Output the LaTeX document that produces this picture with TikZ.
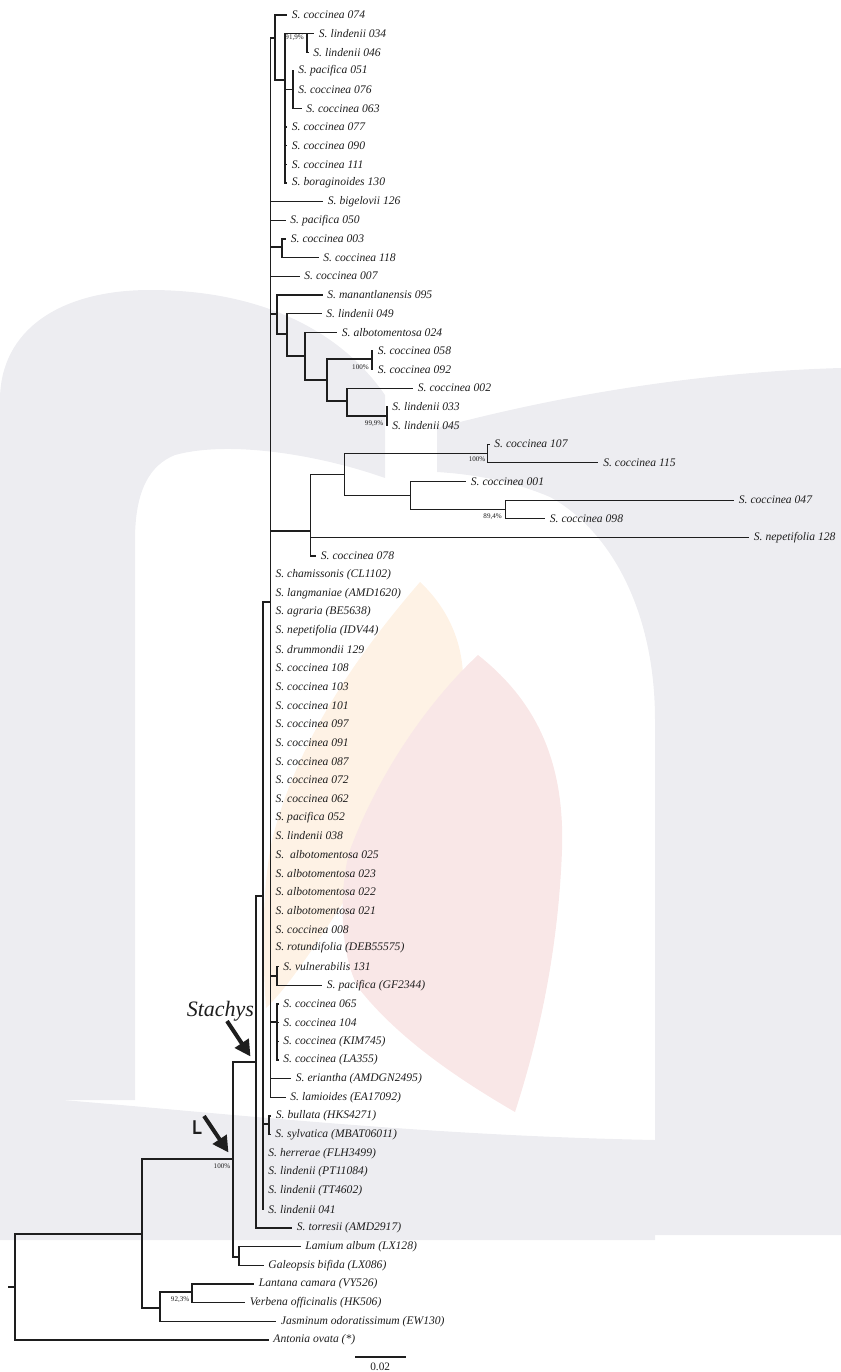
\documentclass[tikz,border=0pt]{standalone}
\usepackage{fontspec}
\setmainfont{Liberation Serif}
\newfontfamily\lsansfont{Liberation Sans}
\usetikzlibrary{arrows.meta}
\definecolor{wmgray}{RGB}{237,237,241}
\definecolor{wmorange}{RGB}{254,242,229}
\definecolor{wmpink}{RGB}{249,231,231}
\definecolor{ink}{RGB}{30,30,30}
\begin{document}
\begin{tikzpicture}[x=0.75pt,y=-0.75pt,
 br/.style={line width=0.95pt,draw=ink},
 leaf/.style={anchor=west,inner xsep=3.5pt,inner ysep=0pt,font=\fontsize{8.7}{10}\selectfont\itshape,text=ink},
 bs/.style={anchor=east,inner sep=0pt,font=\fontsize{5.3}{6}\selectfont,text=ink},
 bigarrow/.style={line width=3pt,draw=ink,-{Triangle[length=12pt,width=12pt]}}]
\useasboundingbox (0,0) rectangle (841,1372);
% watermark
\fill[wmgray] (0,1100) -- (0,400) .. controls (0,330) and (60,290) .. (150,290) .. controls (260,290) and (340,330) .. (385,395) -- (385,478) .. controls (320,455) and (230,440) .. (175,455) .. controls (150,465) and (135,490) .. (135,540) -- (135,1100) -- cycle;
\fill[wmgray] (437,472) -- (437,428) .. controls (560,395) and (700,372) .. (841,368) -- (841,1235) -- (655,1235) -- (655,720) .. controls (655,610) and (610,530) .. (550,497) .. controls (510,480) and (470,474) .. (437,472) -- cycle;
\fill[wmgray] (0,1095) .. controls (200,1110) and (400,1135) .. (655,1140) -- (655,1240) -- (0,1240) -- cycle;
\fill[wmorange] (420,582) .. controls (450,610) and (468,650) .. (462,700) .. controls (455,770) and (390,830) .. (345,900) .. controls (315,945) and (290,985) .. (266,1008) .. controls (262,950) and (262,890) .. (272,840) .. controls (300,730) and (370,640) .. (420,582) -- cycle;
\fill[wmpink] (478,655) .. controls (535,700) and (565,760) .. (562,850) .. controls (558,960) and (535,1050) .. (515,1112) .. controls (460,1080) and (400,1040) .. (360,990) .. controls (340,960) and (338,890) .. (350,850) .. controls (380,770) and (430,700) .. (478,655) -- cycle;
% internal nodes
\coordinate (R0) at (8,1287);
\coordinate (R) at (15,1287);
\coordinate (A) at (142,1234);
\coordinate (L) at (233,1159);
\coordinate (S) at (256,1062);
\coordinate (LG) at (239,1257);
\coordinate (V) at (160,1308);
\coordinate (VL) at (192,1292);
\coordinate (C) at (263,896);
\coordinate (BS) at (269,1124);
\coordinate (Q) at (270.7,602);
\coordinate (T) at (275,38);
\coordinate (P) at (285,80);
\coordinate (N034) at (307,33.7);
\coordinate (N051) at (293,89.6);
\coordinate (N003) at (282,247);
\coordinate (M) at (277,314);
\coordinate (M2) at (287,334);
\coordinate (M3) at (305,356);
\coordinate (M4) at (327,380);
\coordinate (N058) at (372,359);
\coordinate (M5) at (347,401);
\coordinate (N033) at (387,416);
\coordinate (D) at (310.5,531);
\coordinate (D1) at (344.5,474.5);
\coordinate (D2) at (487.5,453.5);
\coordinate (D3) at (410.5,495.5);
\coordinate (D4) at (505.5,509.5);
\coordinate (VP) at (277,976);
\coordinate (CP) at (277,1022);
% leaves
\node[leaf] (t1) at (287,15.0) {S. coccinea 074};
\node[leaf] (t2) at (314,33.7) {S. lindenii 034};
\node[leaf] (t3) at (308.5,52.3) {S. lindenii 046};
\node[leaf] (t4) at (293.5,71.0) {S. pacifica 051};
\node[leaf] (t5) at (293.5,89.6) {S. coccinea 076};
\node[leaf] (t6) at (301.5,108.3) {S. coccinea 063};
\node[leaf] (t7) at (287,127.0) {S. coccinea 077};
\node[leaf] (t8) at (287,145.6) {S. coccinea 090};
\node[leaf] (t9) at (287,164.3) {S. coccinea 111};
\node[leaf] (t10) at (287,182.9) {S. boraginoides 130};
\node[leaf] (t11) at (323,201.6) {S. bigelovii 126};
\node[leaf] (t12) at (285.5,220.3) {S. pacifica 050};
\node[leaf] (t13) at (286,238.9) {S. coccinea 003};
\node[leaf] (t14) at (318.5,257.6) {S. coccinea 118};
\node[leaf] (t15) at (299.5,276.2) {S. coccinea 007};
\node[leaf] (t16) at (322.5,294.9) {S. manantlanensis 095};
\node[leaf] (t17) at (321.5,313.6) {S. lindenii 049};
\node[leaf] (t18) at (337,332.2) {S. albotomentosa 024};
\node[leaf] (t19) at (373,350.9) {S. coccinea 058};
\node[leaf] (t20) at (373,369.5) {S. coccinea 092};
\node[leaf] (t21) at (413,388.2) {S. coccinea 002};
\node[leaf] (t22) at (387.5,406.9) {S. lindenii 033};
\node[leaf] (t23) at (387.5,425.5) {S. lindenii 045};
\node[leaf] (t24) at (489.5,444.2) {S. coccinea 107};
\node[leaf] (t25) at (598.4,462.8) {S. coccinea 115};
\node[leaf] (t26) at (466,481.5) {S. coccinea 001};
\node[leaf] (t27) at (734,500.2) {S. coccinea 047};
\node[leaf] (t28) at (545,518.8) {S. coccinea 098};
\node[leaf] (t29) at (749,537.5) {S. nepetifolia 128};
\node[leaf] (t30) at (316,556.1) {S. coccinea 078};
\node[leaf] (t31) at (270.7,574.8) {S. chamissonis (CL1102)};
\node[leaf] (t32) at (270.7,593.5) {S. langmaniae (AMD1620)};
\node[leaf] (t33) at (270.7,612.1) {S. agraria (BE5638)};
\node[leaf] (t34) at (270.7,630.8) {S. nepetifolia (IDV44)};
\node[leaf] (t35) at (270.7,649.4) {S. drummondii 129};
\node[leaf] (t36) at (270.7,668.1) {S. coccinea 108};
\node[leaf] (t37) at (270.7,686.8) {S. coccinea 103};
\node[leaf] (t38) at (270.7,705.4) {S. coccinea 101};
\node[leaf] (t39) at (270.7,724.1) {S. coccinea 097};
\node[leaf] (t40) at (270.7,742.7) {S. coccinea 091};
\node[leaf] (t41) at (270.7,761.4) {S. coccinea 087};
\node[leaf] (t42) at (270.7,780.1) {S. coccinea 072};
\node[leaf] (t43) at (270.7,798.7) {S. coccinea 062};
\node[leaf] (t44) at (270.7,817.4) {S. pacifica 052};
\node[leaf] (t45) at (270.7,836.0) {S. lindenii 038};
\node[leaf] (t46) at (270.7,854.7) {S.\ \ albotomentosa 025};
\node[leaf] (t47) at (270.7,873.4) {S. albotomentosa 023};
\node[leaf] (t48) at (270.7,892.0) {S. albotomentosa 022};
\node[leaf] (t49) at (270.7,910.7) {S. albotomentosa 021};
\node[leaf] (t50) at (270.7,929.3) {S. coccinea 008};
\node[leaf] (t51) at (270.7,948.0) {S. rotundifolia (DEB55575)};
\node[leaf] (t52) at (278.5,966.7) {S. vulnerabilis 131};
\node[leaf] (t53) at (322,985.3) {S. pacifica (GF2344)};
\node[leaf] (t54) at (278.5,1004.0) {S. coccinea 065};
\node[leaf] (t55) at (278.5,1022.6) {S. coccinea 104};
\node[leaf] (t56) at (278.5,1041.3) {S. coccinea (KIM745)};
\node[leaf] (t57) at (278.5,1060.0) {S. coccinea (LA355)};
\node[leaf] (t58) at (291,1078.6) {S. eriantha (AMDGN2495)};
\node[leaf] (t59) at (285.5,1097.3) {S. lamioides (EA17092)};
\node[leaf] (t60) at (271,1115.9) {S. bullata (HKS4271)};
\node[leaf] (t61) at (270.5,1134.6) {S. sylvatica (MBAT06011)};
\node[leaf] (t62) at (263.5,1153.3) {S. herrerae (FLH3499)};
\node[leaf] (t63) at (263.5,1171.9) {S. lindenii (PT11084)};
\node[leaf] (t64) at (263.5,1190.6) {S. lindenii (TT4602)};
\node[leaf] (t65) at (263.5,1209.2) {S. lindenii 041};
\node[leaf] (t66) at (292,1227.9) {S. torresii (AMD2917)};
\node[leaf] (t67) at (300.5,1246.6) {Lamium album (LX128)};
\node[leaf] (t68) at (263.5,1265.2) {Galeopsis bifida (LX086)};
\node[leaf] (t69) at (254,1283.9) {Lantana camara (VY526)};
\node[leaf] (t70) at (245,1302.5) {Verbena officinalis (HK506)};
\node[leaf] (t71) at (276,1321.2) {Jasminum odoratissimum (EW130)};
\node[leaf] (t72) at (268.5,1339.9) {Antonia ovata (*)};
% branches
\draw[br] (R0) -- (R);
\foreach \c in {A,t72.west} \draw[br] (R) |- (\c);
\foreach \c in {L,V} \draw[br] (A) |- (\c);
\foreach \c in {S,LG} \draw[br] (L) |- (\c);
\foreach \c in {t67.west,t68.west} \draw[br] (LG) |- (\c);
\foreach \c in {VL,t71.west} \draw[br] (V) |- (\c);
\foreach \c in {t69.west,t70.west} \draw[br] (VL) |- (\c);
\foreach \c in {C,t66.west} \draw[br] (S) |- (\c);
\foreach \c in {Q,BS,t62.west,t63.west,t64.west,t65.west} \draw[br] (C) |- (\c);
\foreach \c in {t60.west,t61.west} \draw[br] (BS) |- (\c);
\foreach \c in {T,t11.west,t12.west,N003,t15.west,M,D,t31.west,t32.west,t33.west,t34.west,t35.west,t36.west,t37.west,t38.west,t39.west,t40.west,t41.west,t42.west,t43.west,t44.west,t45.west,t46.west,t47.west,t48.west,t49.west,t50.west,t51.west,VP,CP,t58.west,t59.west} \draw[br] (Q) |- (\c);
\foreach \c in {t1.west,P} \draw[br] (T) |- (\c);
\foreach \c in {N034,N051,t7.west,t8.west,t9.west,t10.west} \draw[br] (P) |- (\c);
\foreach \c in {t2.west,t3.west} \draw[br] (N034) |- (\c);
\foreach \c in {t4.west,t5.west,t6.west} \draw[br] (N051) |- (\c);
\foreach \c in {t13.west,t14.west} \draw[br] (N003) |- (\c);
\foreach \c in {t16.west,M2} \draw[br] (M) |- (\c);
\foreach \c in {t17.west,M3} \draw[br] (M2) |- (\c);
\foreach \c in {t18.west,M4} \draw[br] (M3) |- (\c);
\foreach \c in {N058,M5} \draw[br] (M4) |- (\c);
\foreach \c in {t19.west,t20.west} \draw[br] (N058) |- (\c);
\foreach \c in {t21.west,N033} \draw[br] (M5) |- (\c);
\foreach \c in {t22.west,t23.west} \draw[br] (N033) |- (\c);
\foreach \c in {D1,t29.west,t30.west} \draw[br] (D) |- (\c);
\foreach \c in {D2,D3} \draw[br] (D1) |- (\c);
\foreach \c in {t24.west,t25.west} \draw[br] (D2) |- (\c);
\foreach \c in {t26.west,D4} \draw[br] (D3) |- (\c);
\foreach \c in {t27.west,t28.west} \draw[br] (D4) |- (\c);
\foreach \c in {t52.west,t53.west} \draw[br] (VP) |- (\c);
\foreach \c in {t54.west,t55.west,t56.west,t57.west} \draw[br] (CP) |- (\c);
% support values
\node[bs] (b1) at (304,38) {91,9\%};
\node[bs] (b2) at (369,366.7) {100\%};
\node[bs] (b3) at (383.5,423.3) {99,9\%};
\node[bs] (b4) at (485.5,459.5) {100\%};
\node[bs] (b5) at (502,517) {89,4\%};
\node[bs] (b6) at (189.5,1300) {92,3\%};
\node[bs] (b7) at (230.5,1166) {100\%};
% scale bar
\coordinate (sb1) at (355,1357);
\coordinate (sb2) at (405.5,1357);
\draw[br] (sb1) -- (sb2);
\node[font=\fontsize{8.5}{10}\selectfont,text=ink,inner sep=0pt] (sbl) at (380.2,1366.5) {0.02};
% clade arrows
\node[anchor=base west,inner sep=0pt,font=\fontsize{16.5}{19}\selectfont\itshape,text=ink] (stl) at (186.5,1016) {Stachys};
\coordinate (sa1) at (227,1021);
\coordinate (sa2) at (250.5,1056.5);
\draw[bigarrow] (sa1) -- (sa2);
\node[anchor=base west,inner sep=0pt,font=\lsansfont\bfseries\fontsize{15}{18}\selectfont,text=ink] (ll) at (192,1134.5) {\scalebox{0.8}[1]{L}};
\coordinate (la1) at (204,1116);
\coordinate (la2) at (228.5,1152.5);
\draw[bigarrow] (la1) -- (la2);
\end{tikzpicture}
\end{document}
